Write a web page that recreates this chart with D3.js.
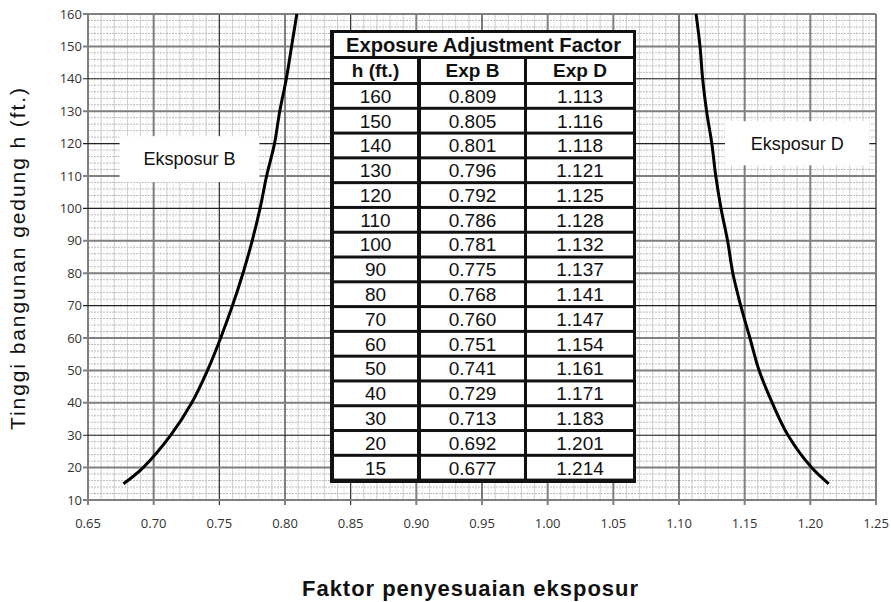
<!DOCTYPE html>
<html><head><meta charset="utf-8">
<script src="https://cdn.jsdelivr.net/npm/d3@7"></script>
<style>body{margin:0;background:#fff}svg{display:block}</style>
</head><body>
<script>
const heights = [160,150,140,130,120,110,100,90,80,70,60,50,40,30,20,15];
const expB = [0.809,0.805,0.801,0.796,0.792,0.786,0.781,0.775,0.768,0.760,0.751,0.741,0.729,0.713,0.692,0.677];
const expD = [1.113,1.116,1.118,1.121,1.125,1.128,1.132,1.137,1.141,1.147,1.154,1.161,1.171,1.183,1.201,1.214];
const xTicks = [0.65,0.70,0.75,0.80,0.85,0.90,0.95,1.00,1.05,1.10,1.15,1.20,1.25];
const yTicks = [10,20,30,40,50,60,70,80,90,100,110,120,130,140,150,160];
const tableTitle = "Exposure Adjustment Factor";
const tableHeaders = ["h (ft.)","Exp B","Exp D"];

const W=891,H=602;
const svg=d3.select("body").append("svg").attr("width",W).attr("height",H);
const x=d3.scaleLinear().domain([0.65,1.25]).range([88,876]);
const y=d3.scaleLinear().domain([10,160]).range([500,14]);
const font="'Liberation Sans', Arial, sans-serif";

const g=svg.append("g");
const v005=d3.range(0,121).map(i=>0.65+i*0.005);
g.selectAll(".v5").data(v005).join("line")
 .attr("x1",d=>x(d)).attr("x2",d=>x(d)).attr("y1",y(160)).attr("y2",y(10))
 .attr("stroke","#dedede").attr("stroke-width",1).attr("stroke-dasharray","1,1");
const v01=d3.range(0,61).map(i=>0.65+i*0.01);
g.selectAll(".v1").data(v01).join("line")
 .attr("x1",d=>x(d)).attr("x2",d=>x(d)).attr("y1",y(160)).attr("y2",y(10))
 .attr("stroke","#d2d2d2").attr("stroke-width",1);
const h2=d3.range(0,76).map(i=>10+i*2);
g.selectAll(".h2").data(h2).join("line")
 .attr("x1",x(0.65)).attr("x2",x(1.25)).attr("y1",d=>y(d)).attr("y2",d=>y(d))
 .attr("stroke","#bcbcbc").attr("stroke-width",1).attr("stroke-dasharray","2,1");
const darkX=[0.75,0.85,0.95,1.10];
g.selectAll(".vm").data(xTicks).join("line")
 .attr("x1",d=>x(d)).attr("x2",d=>x(d)).attr("y1",y(160)).attr("y2",y(10)+5)
 .attr("stroke",d=>darkX.some(v=>Math.abs(v-d)<1e-6)?"#222":"#808080")
 .attr("stroke-width",d=>darkX.some(v=>Math.abs(v-d)<1e-6)?1.1:2);
const darkY=[30,70,100,120,140];
g.selectAll(".hm").data(yTicks).join("line")
 .attr("x1",x(0.65)-5).attr("x2",x(1.25)).attr("y1",d=>y(d)).attr("y2",d=>y(d))
 .attr("stroke",d=>darkY.includes(d)?"#222":"#808080")
 .attr("stroke-width",d=>darkY.includes(d)?1.1:2);

svg.selectAll(".yt").data(yTicks).join("text")
 .attr("x",82).attr("y",d=>y(d)).attr("dy","0.35em").attr("text-anchor","end")
 .attr("font-family","Open Sans, sans-serif").attr("font-size",13).attr("fill","#333")
 .text(d=>d);
svg.selectAll(".xt").data(xTicks).join("text")
 .attr("x",d=>x(d)).attr("y",528).attr("text-anchor","middle")
 .attr("font-family","Open Sans, sans-serif").attr("font-size",13).attr("fill","#333")
 .text(d=>d.toFixed(2));

svg.append("text").attr("transform","translate(25,259) rotate(-90)").attr("text-anchor","middle")
 .attr("font-family",font).attr("font-size",21).attr("fill","#111")
 .attr("textLength",342).attr("lengthAdjust","spacing")
 .text("Tinggi bangunan gedung h (ft.)");
svg.append("text").attr("x",470).attr("y",596).attr("text-anchor","middle")
 .attr("font-family",font).attr("font-size",22).attr("font-weight","bold").attr("fill","#111")
 .attr("textLength",336).attr("lengthAdjust","spacing")
 .text("Faktor penyesuaian eksposur");

svg.append("clipPath").attr("id","c").append("rect")
 .attr("x",x(0.65)).attr("y",y(160)).attr("width",x(1.25)-x(0.65)).attr("height",y(10)-y(160));
const line=d3.line().curve(d3.curveCatmullRom);
const ptsB=heights.map((h,i)=>[x(expB[i]),y(h)]);
const ptsD=heights.map((h,i)=>[x(expD[i]),y(h)]);
[ptsB,ptsD].forEach(p=>svg.append("path").attr("d",line(p)).attr("fill","none")
 .attr("stroke","#000").attr("stroke-width",3).attr("clip-path","url(#c)"));

function labelBox(x0,x1,y0,y1,txt){
 svg.append("rect").attr("x",x(x0)).attr("y",y(y0)).attr("width",x(x1)-x(x0)).attr("height",y(y1)-y(y0)).attr("fill","#fff");
 svg.append("text").attr("x",(x(x0)+x(x1))/2).attr("y",(y(y0)+y(y1))/2).attr("dy","0.35em").attr("text-anchor","middle")
  .attr("font-family",font).attr("font-size",18).attr("fill","#111").text(txt);
}
labelBox(0.674,0.7805,122.3,108.1,"Eksposur B");
labelBox(1.135,1.245,126.9,113.3,"Eksposur D");

const tx0=330,tx1=636,ty0=30,ty1=483;
const tg=svg.append("g");
tg.append("rect").attr("x",tx0).attr("y",ty0).attr("width",tx1-tx0).attr("height",ty1-ty0).attr("fill","#111");
const cols=[[334,417],[421,524],[527,633]];
tg.append("rect").attr("x",334).attr("y",33).attr("width",633-334).attr("height",23).attr("fill","#fff");
tg.append("text").attr("x",(334+633)/2).attr("y",44.5).attr("dy","0.36em").attr("text-anchor","middle")
 .attr("font-family",font).attr("font-weight","bold").attr("font-size",20).attr("fill","#111")
 .attr("textLength",275).attr("lengthAdjust","spacingAndGlyphs").text(tableTitle);
tableHeaders.forEach((t,j)=>{
 tg.append("rect").attr("x",cols[j][0]).attr("y",59).attr("width",cols[j][1]-cols[j][0]).attr("height",23).attr("fill","#fff");
 tg.append("text").attr("x",(cols[j][0]+cols[j][1])/2).attr("y",70.5).attr("dy","0.36em").attr("text-anchor","middle")
  .attr("font-family",font).attr("font-weight","bold").attr("font-size",19).attr("fill","#111").text(t);
});
const rowY=d3.scaleBand().domain(d3.range(heights.length)).range([85,481.6]);
heights.forEach((h,i)=>{
 const vals=[String(h),expB[i].toFixed(3),expD[i].toFixed(3)];
 vals.forEach((v,j)=>{
  tg.append("rect").attr("x",cols[j][0]).attr("y",rowY(i)).attr("width",cols[j][1]-cols[j][0]).attr("height",rowY.bandwidth()-3).attr("fill","#fff");
  tg.append("text").attr("x",(cols[j][0]+cols[j][1])/2).attr("y",rowY(i)+(rowY.bandwidth()-3)/2).attr("dy","0.36em").attr("text-anchor","middle")
   .attr("font-family",font).attr("font-size",19).attr("fill","#111").text(v);
 });
});
</script>
</body></html>
